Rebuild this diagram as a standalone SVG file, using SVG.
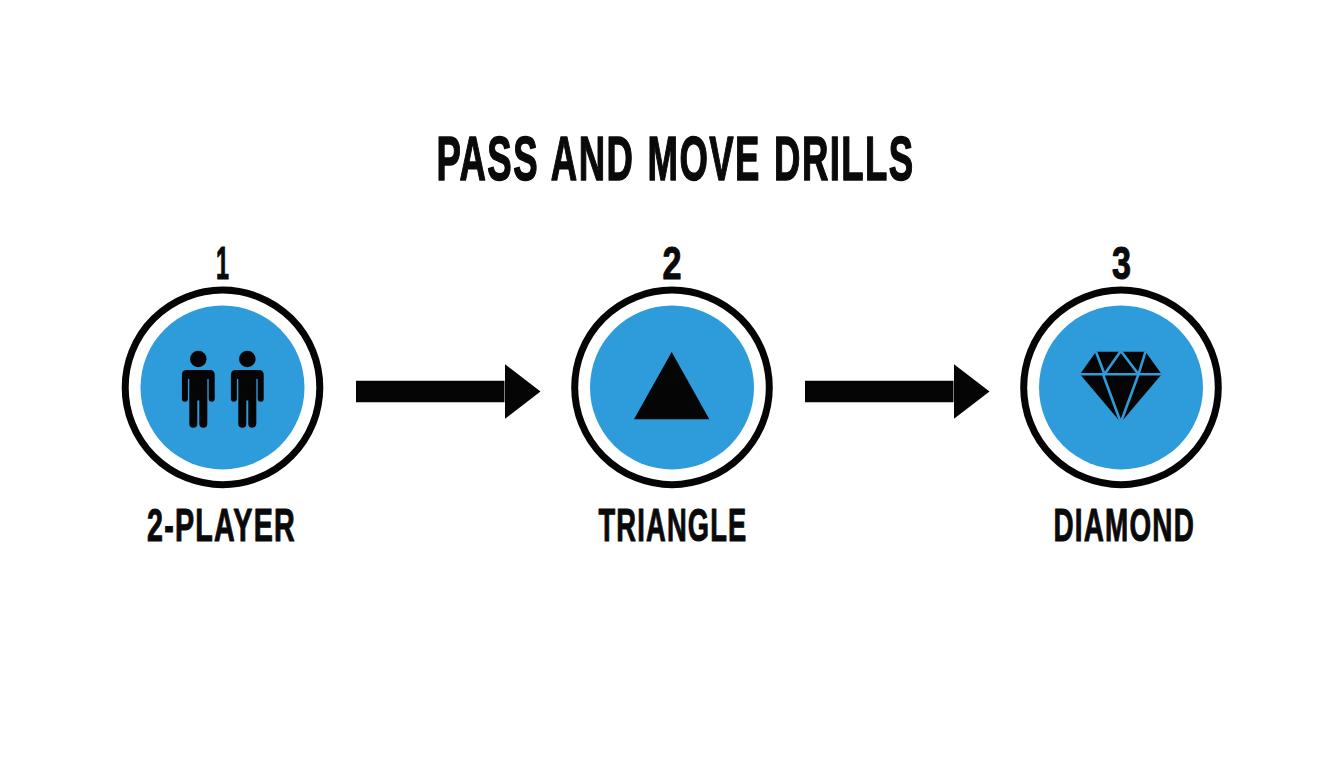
<svg xmlns="http://www.w3.org/2000/svg" xmlns:xlink="http://www.w3.org/1999/xlink" width="1344" height="768" viewBox="0 0 1344 768">
<style>
.t{font-family:"Liberation Sans",Arial,sans-serif;font-weight:700;fill:#0a0a0a;stroke:#0a0a0a;stroke-linejoin:round}
.title{font-size:63.5px;stroke-width:1.5px;letter-spacing:2.5px;word-spacing:3px}
.num{font-size:47px;stroke-width:1.1px;text-anchor:middle}
.lab{font-size:46px;stroke-width:1px;letter-spacing:2px}
.ring{fill:#fff;stroke:#050505;stroke-width:7px}
.disc{fill:#2e9bdb}
.ico{fill:#050505}
.cut{stroke:#2e9bdb;stroke-width:2.6px;fill:none}
.arrow{stroke:#050505;stroke-width:21.6px;fill:none}
</style>
<defs>
<marker id="head" markerUnits="userSpaceOnUse" markerWidth="36" markerHeight="56" refX="0" refY="28" orient="auto" viewBox="0 0 36 56">
<path d="M0 .4L36 28L0 55.6Z" fill="#050505"/>
</marker>
<g id="person">
<circle cx="0" cy="-28.5" r="8.3"/>
<path d="M-11.5-17.5H11.5Q16.4-17.5 16.4-12.6V11Q16.4 14.3 13.4 14.3Q10.4 14.3 10.4 11V-8.5H9V36.2Q9 40.2 5 40.2Q1 40.2 1 36.2V13H-1V36.2Q-1 40.2-5 40.2Q-9 40.2-9 36.2V-8.5H-10.4V11Q-10.4 14.3-13.4 14.3Q-16.4 14.3-16.4 11V-12.6Q-16.4-17.5-11.5-17.5Z"/>
</g>
</defs>
<rect width="1344" height="768" fill="#fff"/>
<text id="title" class="t title" x="436.5" y="180.3" textLength="478" lengthAdjust="spacingAndGlyphs">PASS AND MOVE DRILLS</text>
<g id="connectors">
<line class="arrow" x1="356" y1="391.5" x2="504.5" y2="391.5" marker-end="url(#head)"/>
<line class="arrow" x1="805" y1="391.5" x2="953.5" y2="391.5" marker-end="url(#head)"/>
</g>
<g id="node-1">
<text class="t num" x="222.5" y="278.8" textLength="13" lengthAdjust="spacingAndGlyphs">1</text>
<circle class="ring" cx="222.5" cy="387.4" r="97.3"/>
<circle class="disc" cx="222.5" cy="387.4" r="82"/>
<g class="ico">
<use xlink:href="#person" href="#person" x="198.3" y="387.5"/>
<use xlink:href="#person" href="#person" x="247.3" y="387.5"/>
</g>
<text class="t lab" x="147" y="541.2" textLength="149" lengthAdjust="spacingAndGlyphs">2-PLAYER</text>
</g>
<g id="node-2">
<text class="t num" x="672" y="278.8" textLength="19" lengthAdjust="spacingAndGlyphs">2</text>
<circle class="ring" cx="672" cy="387.4" r="97.3"/>
<circle class="disc" cx="672" cy="387.4" r="82"/>
<path class="ico" d="M671.7 352L709.3 419.3H634Z"/>
<text class="t lab" x="598.5" y="541.2" textLength="149" lengthAdjust="spacingAndGlyphs">TRIANGLE</text>
</g>
<g id="node-3">
<text class="t num" x="1121.5" y="278.8" textLength="19" lengthAdjust="spacingAndGlyphs">3</text>
<circle class="ring" cx="1121" cy="387.4" r="97.3"/>
<circle class="disc" cx="1121" cy="387.4" r="82"/>
<path class="ico" d="M1096 351.7H1145.5L1161.7 374.3L1120.8 422.5L1080 374.3Z"/>
<path class="cut" d="M1080 374.3H1161.7M1096 351.7L1104.5 374.3L1120.8 351M1120.8 351L1138.5 374.3L1145.5 351.7M1103 374.3L1120.8 422.5L1138.5 374.3"/>
<text class="t lab" x="1053.5" y="541.2" textLength="141.5" lengthAdjust="spacingAndGlyphs">DIAMOND</text>
</g>
</svg>
